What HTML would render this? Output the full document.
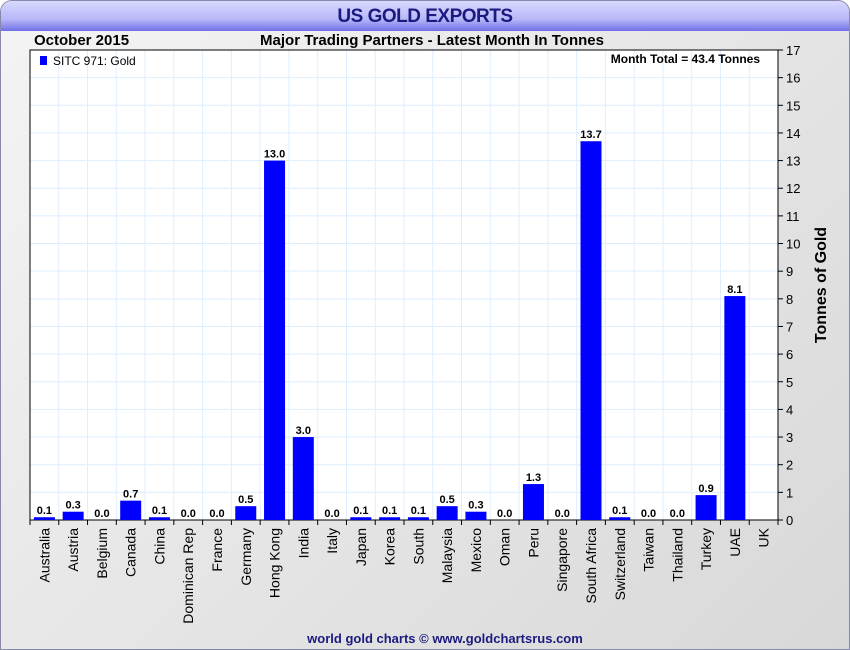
<!DOCTYPE html>
<html><head><meta charset="utf-8"><style>
body{margin:0;width:850px;height:650px;overflow:hidden;font-family:"Liberation Sans",sans-serif;}
#wrap{position:absolute;left:0;top:0;width:848px;height:648px;border:1px solid #8888aa;border-radius:12px 12px 0 0;background:linear-gradient(135deg,#f4f4f4,#d8d8d8);overflow:hidden}
#title{position:absolute;left:0;top:0;width:848px;height:30px;background:linear-gradient(180deg,#d8d8ff,#b8b8f8 60%,#7070e8);text-align:center;font:bold 19px "Liberation Sans",sans-serif;color:#1a1a80;line-height:31px;letter-spacing:-0.5px}
svg{position:absolute;left:0;top:0}
</style></head><body>
<div id="wrap">
<div id="title">US GOLD EXPORTS</div>
</div>
<svg id="chart" width="850" height="650"></svg>
<script>
const categories=["Australia","Austria","Belgium","Canada","China","Dominican Rep","France","Germany","Hong Kong","India","Italy","Japan","Korea","South","Malaysia","Mexico","Oman","Peru","Singapore","South Africa","Switzerland","Taiwan","Thailand","Turkey","UAE","UK"];
const values=[0.1,0.3,0.0,0.7,0.1,0.0,0.0,0.5,13.0,3.0,0.0,0.1,0.1,0.1,0.5,0.3,0.0,1.3,0.0,13.7,0.1,0.0,0.0,0.9,8.1,null];
const yTicks=[0,1,2,3,4,5,6,7,8,9,10,11,12,13,14,15,16,17];
const NS="http://www.w3.org/2000/svg";
const svg=document.getElementById('chart');
const L=30,R=778,T=50,B=520,yMax=17;
const catsShown=categories.filter(c=>c!=="South"||true);
// 25 slots in reference; "South" is Korea split label — keep all categories list but slots = categories.length
const n=categories.length;
const slot=(R-L)/n;
const x=i=>L+slot*(i+0.5);
const y=v=>B-(v/yMax)*(B-T);
function el(tag,attrs,txt){const e=document.createElementNS(NS,tag);for(const k in attrs)e.setAttribute(k,attrs[k]);if(txt!=null)e.textContent=txt;svg.appendChild(e);return e;}
let e;
e=el('rect',{x:L,y:T,width:R-L,height:B-T,fill:'#fff',stroke:'#000','stroke-width':1});


yTicks.forEach(t=>{
 e=el('line',{x1:L,x2:R,y1:y(t),y2:y(t),stroke:'#ddeeff'});
 
 
 el('line',{x1:R,x2:R+5,y1:y(t),y2:y(t),stroke:'#000'});
 e=el('text',{x:R+8,y:y(t)+5,'font-size':13,fill:'#000'},t);
 
 
});
for(let i=0;i<=n;i++){
 e=el('line',{x1:L+slot*i,x2:L+slot*i,y1:T,y2:B,stroke:'#ddeeff'});
 
 
 el('line',{x1:L+slot*i,x2:L+slot*i,y1:B,y2:B+5,stroke:'#000'});
}
el('rect',{x:L,y:T,width:R-L,height:B-T,fill:'none',stroke:'#000'});
categories.forEach((c,i)=>{
 const v=values[i];
 if(v!=null){
  e=el('rect',{x:x(i)-10.5,y:y(v),width:21,height:B-y(v),fill:'#0000ff'});
  
  
  e=el('text',{x:x(i),y:y(v)-3,'font-size':11,'font-weight':'bold','text-anchor':'middle',fill:'#000'},v.toFixed(1));
  
  
 }
 e=el('text',{x:0,y:0,'font-size':14,'text-anchor':'end',transform:`translate(${x(i)+5},${B+8}) rotate(-90)`,fill:'#000'},c);
 
 
});
e=el('text',{x:0,y:0,'font-size':16,'font-weight':'bold','text-anchor':'middle',transform:`translate(826,285) rotate(-90)`},'Tonnes of Gold');


e=el('text',{x:34,y:45,'font-size':15,'font-weight':'bold'},'October 2015');


e=el('text',{x:432,y:45,'font-size':15,'font-weight':'bold','text-anchor':'middle'},'Major Trading Partners - Latest Month In Tonnes');


e=el('rect',{x:40,y:56,width:7,height:9,fill:'#0000ff'});


e=el('text',{x:53,y:65,'font-size':12},'SITC 971: Gold');


e=el('text',{x:760,y:63,'font-size':12,'font-weight':'bold','text-anchor':'end'},'Month Total = 43.4 Tonnes');


e=el('text',{x:445,y:643,'font-size':13,'font-weight':'bold','text-anchor':'middle',fill:'#1a1a80'},'world gold charts © www.goldchartsrus.com');


</script>
</body></html>
